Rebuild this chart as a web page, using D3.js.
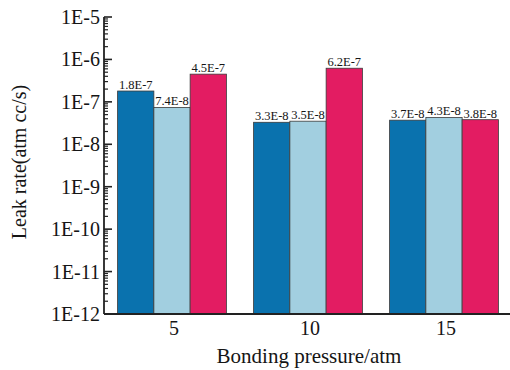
<!DOCTYPE html>
<html>
<head>
<meta charset="utf-8">
<script src="https://cdn.jsdelivr.net/npm/d3@7/dist/d3.min.js"></script>
</head>
<body style="margin:0;background:#fff">
<svg id="chart" width="510" height="370"></svg>
<script>
(function () {
  "use strict";

  // data
  const pressures = ["5", "10", "15"];
  const seriesA = [1.8e-7, 3.3e-8, 3.7e-8];
  const seriesB = [7.4e-8, 3.5e-8, 4.3e-8];
  const seriesC = [4.5e-7, 6.2e-7, 3.8e-8];
  const seriesLabels = [
    ["1.8E-7", "3.3E-8", "3.7E-8"],
    ["7.4E-8", "3.5E-8", "4.3E-8"],
    ["4.5E-7", "6.2E-7", "3.8E-8"]
  ];
  const yTickValues = [1e-12, 1e-11, 1e-10, 1e-9, 1e-8, 1e-7, 1e-6, 1e-5];
  const yTickLabels = ["1E-12", "1E-11", "1E-10", "1E-9", "1E-8", "1E-7", "1E-6", "1E-5"];
  const colors = ["#0a72ae", "#a2cfe0", "#e31c62"];

  const font = "Liberation Serif";
  const left = 104, right = 510, top = 17, bottom = 314;
  const svg = d3.select("#chart");

  const x = d3.scaleBand().domain(pressures).range([left, 512])
    .paddingInner(0.2).paddingOuter(0.1);
  const xs = d3.scaleBand().domain([0, 1, 2]).range([0, x.bandwidth()]);
  const y = d3.scaleLog().domain([1e-12, 1e-5]).range([bottom, top]);

  function label(sel, size) {
    return sel.style("font-family", font).style("font-size", size + "px").attr("fill", "#151515");
  }

  const series = [seriesA, seriesB, seriesC];
  series.forEach((vals, si) => {
    const g = svg.append("g");
    g.selectAll("rect").data(vals).join("rect")
      .attr("x", (d, i) => x(pressures[i]) + xs(si))
      .attr("width", xs.bandwidth())
      .attr("y", (d) => y(d))
      .attr("height", (d) => bottom - y(d))
      .attr("fill", colors[si])
      .attr("stroke", "#3a3a3a")
      .attr("stroke-width", 0.8);
    g.selectAll("text").data(vals).join("text")
      .attr("x", (d, i) => x(pressures[i]) + xs(si) + xs.bandwidth() / 2)
      .attr("y", (d) => y(d) - 2)
      .attr("text-anchor", "middle")
      .call(label, 12.5)
      .text((d, i) => seriesLabels[si][i]);
  });

  // minor ticks on the log axis
  const minor = [];
  for (let e = -12; e < -5; e++) {
    for (let m = 2; m <= 9; m++) minor.push(m * Math.pow(10, e));
  }
  const yAxis = svg.append("g");
  yAxis.selectAll("line.minor").data(minor).join("line")
    .attr("class", "minor")
    .attr("x1", left).attr("x2", left + 4)
    .attr("y1", (d) => y(d)).attr("y2", (d) => y(d))
    .attr("stroke", "#222").attr("stroke-width", 1.2);
  yAxis.selectAll("line.major").data(yTickValues).join("line")
    .attr("class", "major")
    .attr("x1", left).attr("x2", left + 8)
    .attr("y1", (d) => y(d)).attr("y2", (d) => y(d))
    .attr("stroke", "#222").attr("stroke-width", 1.6);
  yAxis.selectAll("text").data(yTickValues).join("text")
    .attr("x", left - 4)
    .attr("y", (d) => y(d) + 7)
    .attr("text-anchor", "end")
    .call(label, 20)
    .text((d, i) => yTickLabels[i]);
  yAxis.append("line")
    .attr("x1", left).attr("x2", left)
    .attr("y1", top).attr("y2", bottom)
    .attr("stroke", "#222").attr("stroke-width", 1.8);

  // bottom axis
  svg.append("line")
    .attr("x1", left).attr("x2", right)
    .attr("y1", bottom).attr("y2", bottom)
    .attr("stroke", "#222").attr("stroke-width", 1.8);
  svg.selectAll("text.xtick").data(pressures).join("text")
    .attr("class", "xtick")
    .attr("x", (d) => x(d) + x.bandwidth() / 2 + 2)
    .attr("y", 335)
    .attr("text-anchor", "middle")
    .call(label, 20)
    .text((d) => d);

  svg.append("text")
    .attr("x", 309).attr("y", 363)
    .attr("text-anchor", "middle")
    .call(label, 21)
    .text("Bonding pressure/atm");
  svg.append("text")
    .attr("transform", "translate(26,162) rotate(-90)")
    .attr("text-anchor", "middle")
    .call(label, 20)
    .text("Leak rate(atm cc/s)");
})();
</script>
</body>
</html>
